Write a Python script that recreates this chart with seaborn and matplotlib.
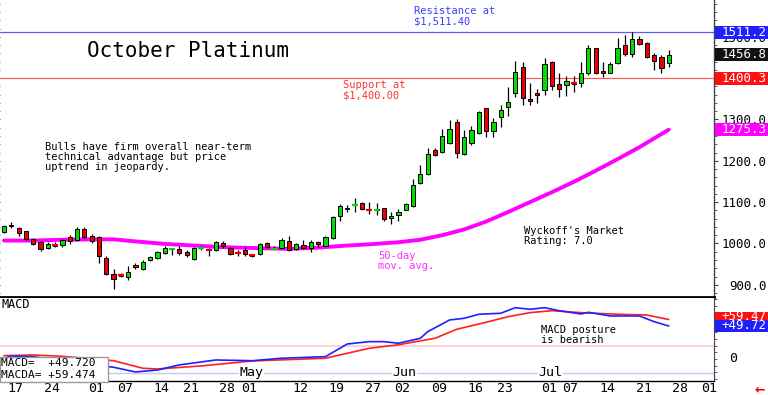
import numpy as np
import pandas as pd
import matplotlib
matplotlib.use('Agg')
import matplotlib.pyplot as plt
import matplotlib.transforms as mtransforms
from matplotlib.patches import Rectangle
from matplotlib.ticker import MultipleLocator
import seaborn as sns

# ---- values (trading days, Mar 17 = day 0 ... Jul 28 = day 91) ----
opens = [1027, 1045, 1038, 1030, 1010, 1003, 989, 997, 996, 1015,
         1009, 1034, 1018, 1015, 966, 926, 924, 919, 947, 939,
         959, 965, 977, 986, 986, 979, 963, 989, 986, 983,
         1002, 990, 978, 983, 972, 975, 1001, 986, 990, 1007,
         986, 997, 989, 1003, 995, 1013, 1066, 1083, 1092, 1097,
         1082, 1081, 1085, 1061, 1069, 1082, 1091, 1146, 1167, 1227,
         1222, 1243, 1295, 1217, 1243, 1268, 1327, 1271, 1305, 1331,
         1363, 1428, 1349, 1365, 1371, 1438, 1385, 1384, 1388, 1389,
         1412, 1472, 1418, 1413, 1437, 1479, 1458, 1494, 1484, 1456,
         1450, 1436]
highs = [1045, 1051, 1040, 1031, 1013, 1006, 1004, 1003, 1012, 1020,
         1041, 1039, 1023, 1019, 969, 939, 929, 945, 953, 961,
         969, 981, 993, 989, 995, 985, 992, 994, 988, 1005,
         1007, 992, 983, 991, 975, 1001, 1003, 993, 1013, 1017,
         1001, 1009, 1009, 1005, 1017, 1067, 1095, 1093, 1109, 1101,
         1101, 1097, 1087, 1075, 1084, 1098, 1155, 1189, 1231, 1231,
         1278, 1298, 1302, 1275, 1284, 1321, 1328, 1304, 1335, 1379,
         1442, 1440, 1388, 1374, 1448, 1442, 1412, 1404, 1406, 1440,
         1479, 1474, 1440, 1440, 1497, 1505, 1511.4, 1503, 1488, 1460,
         1456, 1468]
lows = [1025, 1038, 1019, 1008, 997, 982, 986, 992, 991, 998,
        1006, 1013, 1000, 952, 923, 890, 918, 911, 938, 937,
        958, 962, 974, 972, 973, 968, 961, 985, 970, 981,
        990, 971, 970, 969, 967, 972, 988, 986, 987, 982,
        985, 986, 979, 992, 993, 1010, 1054, 1075, 1075, 1080,
        1072, 1070, 1055, 1046, 1055, 1080, 1089, 1144, 1166, 1212,
        1220, 1240, 1206, 1214, 1238, 1265, 1258, 1258, 1282, 1309,
        1355, 1335, 1335, 1341, 1359, 1371, 1354, 1357, 1367, 1379,
        1408, 1410, 1402, 1412, 1434, 1454, 1451, 1479, 1448, 1420,
        1412, 1428]
closes = [1043, 1042, 1026, 1010, 998, 986, 998, 995, 1009, 1006,
          1035, 1015, 1006, 969, 927, 915, 922, 931, 944, 955,
          967, 979, 990, 988, 977, 972, 990, 991, 984, 1003,
          993, 975, 976, 974, 970, 999, 991, 988, 1009, 985,
          999, 989, 1003, 998, 1015, 1063, 1091, 1086, 1094, 1083,
          1080, 1083, 1059, 1067, 1077, 1095, 1141, 1167, 1217, 1215,
          1261, 1278, 1218, 1258, 1275, 1317, 1271, 1295, 1323, 1343,
          1416, 1351, 1345, 1358, 1434, 1381, 1374, 1392, 1386, 1412,
          1472, 1412, 1413, 1434, 1472, 1458, 1495, 1483, 1452, 1442,
          1424, 1456.8]

ma_days = [0, 4, 8, 12, 15, 18, 22, 26, 30, 34, 39, 43, 47, 50, 54, 57, 60,
           63, 66, 69, 72, 75, 78, 81, 84, 87, 91]
ma_vals = [1007, 1007, 1009, 1010, 1010, 1005, 999, 995, 991, 989, 987, 990,
           995, 998, 1003, 1009, 1020, 1034, 1053, 1076, 1100, 1124, 1149,
           1176, 1204, 1233, 1275.3]

macd_days = [0, 1, 4, 8, 12, 15, 18, 21, 24, 29, 34, 38, 44, 47, 50, 52, 54,
             57, 58, 61, 63, 65, 68, 70, 72, 74, 76, 79, 80, 83, 85, 87, 89, 91]
macd_vals = [1.1, 4.5, 3.5, -3, -9, -12.5, -19.6, -16.6, -9, -1.5, -2.6, 1.1,
             3.5, 22.6, 26.1, 26.1, 23.7, 31.2, 41.1, 58.8, 61.3, 67.4, 68.9,
             77.3, 74.9, 77.3, 72.8, 67.8, 70.4, 64.8, 64.8, 64.8, 56.2, 49.72]
signal_days = [0, 4, 8, 12, 15, 19, 21, 27, 34, 44, 50, 54, 59, 62, 66, 69,
               72, 75, 79, 84, 88, 91]
signal_vals = [5, 6, 4, 0, -2.6, -14, -15.1, -10.5, -3, 1.1, 16.1, 21.4, 31.2,
               44.8, 55.3, 63.7, 69.8, 72.8, 69.8, 67.4, 66.3, 59.47]

tick_days = [0, 5, 11, 15, 20, 24, 29, 32, 39, 44, 49, 53, 58, 63, 67, 73, 76,
             81, 86, 91, 95]
tick_labels = ['17', '24', '01', '07', '14', '21', '28', '01', '12', '19', '27',
               '02', '09', '16', '23', '01', '07', '14', '21', '28', '01']
month_days = [32, 53, 73]
month_names = ['May', 'Jun', 'Jul']

# 1400.0 sits fully under the 1400.3 tag in the original, so it is left out
price_ticks = [900, 1000, 1100, 1200, 1300, 1500]
resistance = 1511.2
support = 1400.3
last_close = 1456.8
last_ma = 1275.3
macd_last = 49.72
signal_last = 59.47

GREEN = '#00dd00'
RED = '#ee0000'
MAGENTA = '#ff00ff'

sns.set_style('white')
plt.rcParams['font.family'] = ['DejaVu Sans Mono', 'DejaVu Sans']

W, H = 768, 395
fig = plt.figure(figsize=(W / 100, H / 100), dpi=100)
fig.patch.set_facecolor('white')

ax = fig.add_axes([0, 1 - 297 / H, 714 / W, 297 / H])
axm = fig.add_axes([0, 1 - 381 / H, 714 / W, 83 / H])

# ---- price panel ----
days = np.arange(len(closes))
o = np.array(opens, float)
c = np.array(closes, float)
colors = [GREEN if cc >= oo else RED for oo, cc in zip(o, c)]

sns.lineplot(x=ma_days, y=ma_vals, ax=ax, color=MAGENTA, lw=2.8, zorder=2)
ax.axhline(resistance, color='#5a5aff', lw=0.9, zorder=1)
ax.axhline(support, color='#ff5a5a', lw=0.9, zorder=1)

ax.vlines(days, lows, highs, color='black', lw=0.9, zorder=3)
body_lo = np.minimum(o, c)
body_h = np.abs(c - o)
ax.bar(days, body_h, bottom=body_lo, width=0.58, color=colors,
       edgecolor='black', linewidth=0.7, zorder=4)
doji = body_h < 3
ax.hlines((o + c)[doji] / 2, days[doji] - 0.4, days[doji] + 0.4,
          colors=np.array(colors)[doji], lw=1.6, zorder=5)

ax.set_xlim(-0.55, 97.2)
ax.set_ylim(870.5, 1589)
ax.set_xticks([])
ax.set_xlabel('')
ax.set_ylabel('')
ax.set_yticks(price_ticks)
ax.set_yticklabels([f'{v:.1f}' for v in price_ticks])
ax.yaxis.set_minor_locator(MultipleLocator(20))
ax.tick_params(axis='y', which='both', left=True, right=True, labelleft=False,
               labelright=True, direction='out', colors='#444', labelcolor='black',
               labelsize=9)
ax.tick_params(axis='y', which='major', length=3, pad=35)
ax.tick_params(axis='y', which='minor', length=2)
for lab in ax.get_yticklabels():
    lab.set_horizontalalignment('right')
for s in ['top', 'left']:
    ax.spines[s].set_visible(False)
ax.spines['bottom'].set_linewidth(2)
ax.spines['bottom'].set_color('black')
ax.spines['right'].set_color('#444')
ax.spines['right'].set_linewidth(1)

# ---- MACD panel ----
sns.lineplot(x=signal_days, y=signal_vals, ax=axm, color='#ff2020', lw=1.2, zorder=3)
sns.lineplot(x=macd_days, y=macd_vals, ax=axm, color='#2020ff', lw=1.2, zorder=4)
axm.axhline(19, color='#ffc8c8', lw=1.2, zorder=1)
axm.axhline(-20.5, color='#c8c8ff', lw=1.0, zorder=1)
axm.set_xlim(-0.55, 97.2)
axm.set_ylim(-33.2, 91.9)
axm.set_xlabel('')
axm.set_ylabel('')
axm.set_yticks([])
axm.yaxis.set_minor_locator(MultipleLocator(10))
axm.tick_params(axis='y', which='minor', right=True, left=False, length=2,
                direction='out', colors='#444')
axm.set_xticks(tick_days)
axm.set_xticklabels(tick_labels, ha='left', fontsize=9.5)
axm.tick_params(axis='x', direction='out', length=10, width=0.8, pad=-10,
                colors='black')
offset = mtransforms.ScaledTranslation(2.5 / 72, -1 / 72, fig.dpi_scale_trans)
for lab in axm.get_xticklabels():
    lab.set_transform(lab.get_transform() + offset)
for s in ['top', 'left']:
    axm.spines[s].set_visible(False)
axm.spines['bottom'].set_color('black')
axm.spines['bottom'].set_linewidth(1)
axm.spines['right'].set_color('#444')

month_tr = mtransforms.blended_transform_factory(axm.transData, axm.transAxes)
for d, name in zip(month_days, month_names):
    axm.text(d + 0.2, 0.02, name, transform=month_tr, ha='left', va='bottom',
             fontsize=9.5, color='black', zorder=5,
             bbox=dict(facecolor='white', edgecolor='none', pad=0.5))

zero_tr = mtransforms.blended_transform_factory(axm.transAxes, axm.transData)
axm.text(733 / 714, 0, '0', transform=zero_tr, ha='center', va='center',
         fontsize=9.5, color='black', clip_on=False)


# ---- annotations (figure pixel positions) ----
def ftext(x, y, s, **kw):
    kw.setdefault('fontsize', 7.5)
    kw.setdefault('va', 'center')
    kw.setdefault('ha', 'left')
    fig.text(x / W, 1 - y / H, s, **kw)


def block(x, y, lines, color, step=10.3, size=7.5):
    for k, s in enumerate(lines):
        ftext(x, y + k * step, s, color=color, fontsize=size)


ftext(87, 51, 'October Platinum', fontsize=15, color='black')
block(414, 11.5, ['Resistance at', '$1,511.40'], '#3a3aff')
block(343, 85.5, ['Support at', '$1,400.00'], '#ff3030')
block(45, 146.7, ['Bulls have firm overall near-term',
                  'technical advantage but price',
                  'uptrend in jeopardy.'], 'black')
block(378, 256, ['50-day', 'mov. avg.'], '#ff30ff')
block(524, 231, ["Wyckoff's Market", 'Rating: 7.0'], 'black')
block(541, 330, ['MACD posture', 'is bearish'], 'black')
ftext(1, 305, 'MACD', fontsize=8.5, color='black')

# MACD value box, lower left
fig.add_artist(Rectangle((0, 1 - 382 / H), 108 / W, 25 / H, transform=fig.transFigure,
                         facecolor='white', edgecolor='#999', lw=1, zorder=5))
ftext(1, 363, 'MACD=  +49.720', fontsize=8, color='black', zorder=6)
ftext(1, 375.5, 'MACDA= +59.474', fontsize=8, color='black', zorder=6)


# right-hand value tags
def tag(axis, value, text, color, h=13):
    yp = H - axis.transData.transform((0, value))[1]
    fig.add_artist(Rectangle((715 / W, 1 - (yp + h / 2) / H), 53 / W, h / H,
                             transform=fig.transFigure, facecolor=color,
                             edgecolor='none', zorder=7))
    ftext(767, yp, text, ha='right', fontsize=9, color='white', zorder=8)


tag(ax, resistance, f'{resistance:.1f}', '#2020ff')
tag(ax, last_close, f'{last_close:.1f}', '#111111')
tag(ax, support, f'{support:.1f}', '#ff1010')
tag(ax, last_ma, f'{last_ma:.1f}', MAGENTA)
tag(axm, signal_last + 4, f'+{signal_last:.2f}', '#ff1010', h=10)
tag(axm, macd_last, f'+{macd_last:.2f}', '#2020ff', h=12)

ftext(760, 390, '\u2190', fontsize=9, color='#ee0000', ha='center',
      fontweight='bold', family='DejaVu Sans')

fig.savefig('out.png', dpi=100)
